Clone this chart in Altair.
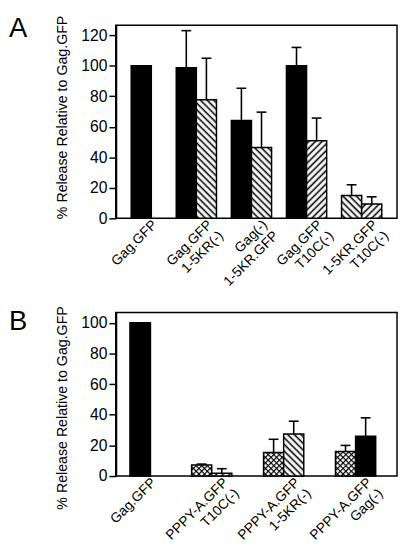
import altair as alt
import pandas as pd
import altair.utils.html as _html

# ---------------- data ----------------
panel_labels = ["A", "B"]
y_title = "% Release Relative to Gag.GFP"

# Panel A groups (two-line tick labels)
a_top = ["Gag.GFP", "Gag.GFP", "Gag(-)", "Gag.GFP", "1-5KR.GFP"]
a_bottom = ["", "1-5KR(-)", "1-5KR.GFP", "T10C(-)", "T10C(-)"]
a_bar_group = [0, 1, 1, 2, 2, 3, 3, 4, 4]
a_bar_slot = ["c", "a", "b", "a", "b", "a", "b", "a", "b"]
a_bar_fill = ["solid", "solid", "back", "solid", "back", "solid", "fwd", "back", "fwd"]
a_values = [100, 98.7, 77.7, 64.2, 46.4, 100, 50.9, 15.0, 9.4]
a_err = [None, 123, 104.9, 85.2, 69.6, 112, 65.7, 22, 14.1]
a_ticks = [0, 20, 40, 60, 80, 100, 120]

# Panel B groups
b_top = ["Gag.GFP", "PPPY-A.GFP", "PPPY-A.GFP", "PPPY-A.GFP"]
b_bottom = ["", "T10C(-)", "1-5KR(-)", "Gag(-)"]
b_bar_group = [0, 1, 1, 2, 2, 3, 3]
b_bar_slot = ["c", "a", "b", "a", "b", "a", "b"]
b_bar_fill = ["solid", "cross", "fwd", "cross", "back", "cross", "solid"]
b_values = [100, 7.2, 1.8, 15.4, 27.5, 16.0, 26.0]
b_err = [None, 7.8, 4.8, 24, 35.8, 20, 38]
b_ticks = [0, 20, 40, 60, 80, 100]

fill_keys = ["solid", "back", "fwd", "cross"]
fill_paints = ["black", "url(#hatchBack)", "url(#hatchFwd)", "url(#hatchCross)"]

# ---------------- hatch patterns (SVG defs placed in the page) ----------------
DEFS = """<svg width="0" height="0" style="position:absolute;width:0;height:0"><defs>
<pattern id="hatchBack" patternUnits="userSpaceOnUse" width="4.8" height="8" patternTransform="rotate(-45)">
<rect width="4.8" height="8" fill="white"/><rect x="1.5" width="1.6" height="8" fill="black"/></pattern>
<pattern id="hatchFwd" patternUnits="userSpaceOnUse" width="4.8" height="8" patternTransform="rotate(45)">
<rect width="4.8" height="8" fill="white"/><rect x="1.5" width="1.6" height="8" fill="black"/></pattern>
<pattern id="hatchCross" patternUnits="userSpaceOnUse" width="4" height="4" patternTransform="rotate(45)">
<rect width="4" height="4" fill="white"/><rect x="0" width="1.2" height="4" fill="black"/><rect y="0" width="4" height="1.2" fill="black"/></pattern>
</defs></svg>"""

try:
    _orig_tpl = _html.TEMPLATES["standard"]

    class _PatternTemplate:
        def render(self, *args, **kwargs):
            s = _orig_tpl.render(*args, **kwargs)
            if "<body>" in s:
                return s.replace("<body>", "<body>" + DEFS, 1)
            return s.replace("<div", DEFS + "<div", 1)

    _html.TEMPLATES["standard"] = _PatternTemplate()
except Exception:
    pass

NB = "\u00a0"
FONT = "Liberation Sans"


def group_keys(top, bottom):
    return [t + ("|" + b if b else "") for t, b in zip(top, bottom)]


def make_panel(top, bottom, bar_group, bar_slot, bar_fill, values, err, ticks,
               ymax, height, pin, pout, palign, label, title_y, label_y, pin_top, pin_bottom):
    keys = group_keys(top, bottom)
    df = pd.DataFrame({
        "grp": [keys[i] for i in bar_group],
        "slot": bar_slot,
        "pat": bar_fill,
        "val": values,
        "err": err,
    })
    label_expr = (
        "indexof(datum.label, '|') >= 0 ? "
        "[split(datum.label, '|')[0] + '" + NB * 4 + "', split(datum.label, '|')[1]] : datum.label"
    )
    X = alt.X(
        "grp:N",
        sort=keys,
        scale=alt.Scale(domain=keys, paddingInner=pin, paddingOuter=pout, align=palign),
        axis=alt.Axis(
            title=None, domain=False, ticks=False, labelAngle=-45, labelAlign="right",
            labelBaseline="middle", labelPadding=4, labelOffset=14, labelFontSize=14,
            labelLineHeight=16, labelExpr=label_expr, labelOverlap=False, labelFlush=False,
            labelBound=False,
        ),
    )
    y_scale = alt.Scale(domain=[0, ymax], nice=False, zero=True)
    y_axis = alt.Axis(
        values=ticks, title=y_title, grid=False, tickSize=7, tickWidth=1.5,
        domainWidth=2, labelFontSize=16, labelPadding=2, titleFontSize=14.5,
        titlePadding=12, titleY=title_y, titleFontWeight="normal", labelOverlap=False,
        labelFlush=False,
    )
    Y = alt.Y("val:Q", scale=y_scale, axis=y_axis)
    YE = alt.Y("err:Q", scale=y_scale, axis=y_axis)
    XO = alt.XOffset("slot:N", scale=alt.Scale(domain=["a", "b"]))
    F = alt.Fill("pat:N", scale=alt.Scale(domain=fill_keys, range=fill_paints), legend=None)

    base = alt.Chart(df)
    pair = base.transform_filter("datum.slot != 'c'").mark_bar(
        stroke="black", strokeWidth=1.5, opacity=1
    ).encode(x=X, xOffset=XO, y=Y, fill=F)
    single = base.transform_filter("datum.slot == 'c'").mark_bar(
        stroke="black", strokeWidth=1.5, opacity=1, width=alt.RelativeBandSize(0.5)
    ).encode(x=X, y=Y, fill=F)
    errs = base.transform_filter("isValid(datum.err)")
    rules = errs.mark_rule(color="black", strokeWidth=1.6).encode(
        x=X, xOffset=XO, y=Y, y2="err:Q"
    )
    caps = errs.mark_tick(color="black", thickness=1.6, size=10, opacity=1).encode(
        x=X, xOffset=XO, y=YE
    )
    one = alt.Chart(pd.DataFrame({"t": [label]}))
    lab = one.mark_text(
        font=FONT, fontSize=28, align="left", baseline="alphabetic", color="black"
    ).encode(text="t:N", x=alt.value(-109), y=alt.value(label_y))
    # invisible spacer fixing the panel's outer extent
    spacer = one.mark_rect(opacity=0).encode(
        x=alt.value(0), x2=alt.value(1), y=alt.value(pin_top), y2=alt.value(pin_bottom)
    )
    return alt.layer(pair, single, rules, caps, lab, spacer).properties(width=287, height=height)


chart_a = make_panel(a_top, a_bottom, a_bar_group, a_bar_slot, a_bar_fill, a_values, a_err,
                     a_ticks, 126.5, 197, 0.27, 0.187, 0.26, panel_labels[0], 93.5, 11.5, -11, 272)
chart_b = make_panel(b_top, b_bottom, b_bar_group, b_bar_slot, b_bar_fill, b_values, b_err,
                     b_ticks, 106.8, 167, 0.43, 0.17, 0.16, panel_labels[1], 97, 17.5, -9.5, 0)

chart = alt.vconcat(chart_a, chart_b, spacing=9).properties(
    padding=0, background="white"
).configure_view(stroke="black", strokeWidth=1.5).configure_axis(
    labelFont=FONT, titleFont=FONT, labelColor="black", titleColor="black",
    domainColor="black", tickColor="black",
)

chart.save("out.html", embed_options={"renderer": "svg", "actions": False})
